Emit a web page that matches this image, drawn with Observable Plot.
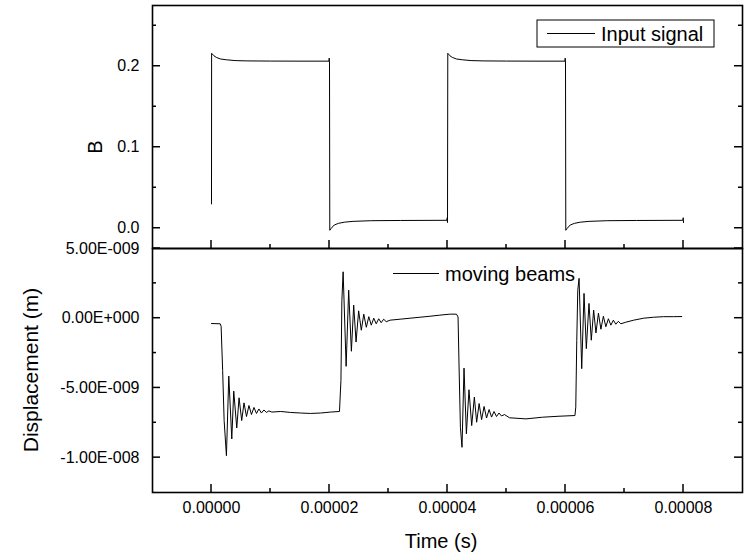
<!DOCTYPE html>
<html><head><meta charset="utf-8">
<script src="https://cdn.jsdelivr.net/npm/d3@7"></script>
<script src="https://cdn.jsdelivr.net/npm/@observablehq/plot@0.6"></script>
<style>
body{margin:0;background:#fff;}
#chart{position:relative;width:745px;height:554px;background:#fff;}
#chart svg{position:absolute;left:0;}
</style></head><body><div id="chart"></div>
<script>
// ---------- data ----------
const timeTicks = [0, 0.00002, 0.00004, 0.00006, 0.00008];
const timeTickLabels = ["0.00000", "0.00002", "0.00004", "0.00006", "0.00008"];
const timeMinorTicks = [0.00001, 0.00003, 0.00005, 0.00007];

const bTicks = [0, 0.1, 0.2];
const bTickLabels = ["0.0", "0.1", "0.2"];
const bMinorTicks = [0.05, 0.15, 0.25];

const dispTicks = [5e-9, 0, -5e-9, -1e-8];
const dispTickLabels = ["5.00E-009", "0.00E+000", "-5.00E-009", "-1.00E-008"];
const dispMinorTicks = [2.5e-9, -2.5e-9, -7.5e-9];

// Input signal (time in microseconds, B)
const inputTimeUs = [0, 0.02, 0.4, 0.8, 1.5, 2.5, 4, 6, 10, 15, 19.9, 19.95, 20.0,
  20.05, 20.3, 20.8, 21.5, 22.5, 24, 27, 32, 39.9, 39.95, 40.0,
  40.05, 40.4, 40.8, 41.5, 42.5, 44, 46, 50, 55, 59.9, 59.95, 60.0,
  60.05, 60.3, 60.8, 61.5, 62.5, 64, 67, 72, 79.9, 79.95, 80.0];
const inputB = [0.030, 0.216, 0.213, 0.211, 0.209, 0.208, 0.207, 0.2066, 0.2064, 0.2063, 0.2063, 0.210, 0.204,
  -0.0025, 0.000, 0.004, 0.006, 0.0075, 0.0085, 0.0093, 0.0096, 0.0098, 0.013, 0.007,
  0.216, 0.213, 0.211, 0.209, 0.208, 0.207, 0.2066, 0.2064, 0.2063, 0.2063, 0.210, 0.204,
  -0.0025, 0.000, 0.004, 0.006, 0.0075, 0.0085, 0.0093, 0.0096, 0.0098, 0.013, 0.007];

// Moving beams displacement (time in microseconds, displacement in nm)
const dispTimeUs = [0, 1.47, 1.63, 1.89, 2.14, 2.53, 2.93, 3.44, 3.77, 4.28, 4.67, 5.12, 5.51,
  5.93, 6.35, 6.77, 7.20, 7.62, 8.04, 8.46, 8.88, 9.30, 9.72, 10.23,
  11.74, 13.43, 15.11, 16.8, 18.5, 20.2, 21.69,
  21.94, 22.1, 22.31, 22.82, 23.25, 23.71, 24.1, 24.5, 24.94, 25.39, 25.81, 26.24, 26.66,
  27.08, 27.5, 27.92, 28.34, 28.76, 29.18, 29.61, 30.28, 31.97, 33.65, 35.33, 37.02, 38.7, 40.39, 41.52,
  41.79, 41.96, 42.19, 42.46, 42.80, 43.2, 43.64, 44.1, 44.55, 44.94, 45.36, 45.78, 46.2, 46.62,
  47.05, 47.47, 47.89, 48.31, 48.73, 49.15, 49.66, 50.5, 53.3, 56.1, 58.9, 61.6,
  61.74, 61.91, 62.08, 62.3, 62.75, 63.14, 63.53, 63.98, 64.37, 64.77, 65.16, 65.58, 66.0,
  66.42, 66.84, 67.27, 67.69, 68.11, 68.53, 68.95, 69.37, 70.2, 71.56, 73.24, 74.93, 76.61, 78.3, 79.7];
const dispNm = [-0.38, -0.40, -0.58, -3.74, -7.34, -9.86, -4.15, -8.66, -5.23, -7.87, -5.71, -7.34, -6.07,
  -7.05, -6.26, -6.91, -6.40, -6.83, -6.51, -6.80, -6.58, -6.76, -6.65, -6.73,
  -6.69, -6.76, -6.80, -6.83, -6.80, -6.73, -6.69,
  -4.46, 1.29, 3.33, -3.45, 2.01, -2.37, 0.94, -1.71, 0.53, -0.86, 0.29, -0.65, 0.11,
  -0.50, 0.0, -0.40, -0.04, -0.32, -0.07, -0.25, -0.14, -0.07, 0.0, 0.07, 0.14, 0.22, 0.29, 0.29,
  0.09, -3.50, -7.82, -9.26, -3.58, -8.29, -5.13, -7.70, -5.66, -7.46, -6.12, -7.27, -6.33, -7.16,
  -6.55, -7.09, -6.69, -7.05, -6.80, -7.01, -6.91, -7.14, -7.22, -7.10, -7.03, -6.98,
  -6.38, -1.58, 2.01, 2.86, -3.62, 1.78, -2.18, 1.06, -1.58, 0.58, -1.06, 0.36, -0.79,
  0.14, -0.61, -0.04, -0.50, -0.14, -0.43, -0.22, -0.40, -0.29, -0.14, 0.0, 0.07, 0.11, 0.11, 0.12];

// ---------- build ----------
const inputData = inputTimeUs.map((t, i) => ({t: t * 1e-6, B: inputB[i]}));
const dispData = dispTimeUs.map((t, i) => ({t: t * 1e-6, d: dispNm[i] * 1e-9}));

const FONT = '"Liberation Sans", Arial, sans-serif';
const W = 745, ML = 152, MR = 3;
const xDomain = [-0.00001, 0.00009];
const styleBase = {background: "transparent", overflow: "visible", fontFamily: FONT, fontSize: "16px", color: "#000"};
const lab = (ticks, labels) => d => { const i = ticks.findIndex(v => Math.abs(v - d) < 1e-15); return i >= 0 ? labels[i] : ""; };

const topPlot = Plot.plot({
  width: W, height: 254, marginTop: 5, marginBottom: 6, marginLeft: ML, marginRight: MR,
  style: styleBase,
  x: {domain: xDomain, axis: null},
  y: {domain: [-0.025, 0.275]},
  marks: [
    Plot.axisY({anchor: "left", ticks: bTicks, tickSize: 0, tickPadding: 13, tickFormat: lab(bTicks, bTickLabels), label: null}),
    Plot.line(inputData, {x: "t", y: "B", stroke: "#000", strokeWidth: 1}),
    Plot.frame({stroke: "#000", strokeWidth: 1.6})
  ]
});

const botPlot = Plot.plot({
  width: W, height: 311, marginTop: 5, marginBottom: 62, marginLeft: ML, marginRight: MR,
  style: styleBase,
  x: {domain: xDomain},
  y: {domain: [-1.25e-8, 5e-9]},
  marks: [
    Plot.axisX({anchor: "bottom", ticks: timeTicks, tickSize: 0, tickPadding: 9, tickFormat: lab(timeTicks, timeTickLabels), label: null}),
    Plot.axisY({anchor: "left", ticks: dispTicks, tickSize: 0, tickPadding: 13, tickFormat: lab(dispTicks, dispTickLabels), label: null}),
    Plot.line(dispData, {x: "t", y: "d", stroke: "#000", strokeWidth: 1}),
    Plot.frame({stroke: "#000", strokeWidth: 1.6})
  ]
});

const chart = document.getElementById("chart");
topPlot.style.top = "0px";
botPlot.style.top = "243px";
chart.appendChild(topPlot);
chart.appendChild(botPlot);

// ---------- inward ticks, positioned with the plots' own scales ----------
function addTicks(plot, yMajor, yMinor, bottom) {
  const sx = plot.scale("x"), sy = plot.scale("y");
  const X = v => sx.apply(v), Y = v => sy.apply(v);
  const g = d3.select(plot).append("g").attr("stroke", "#000").attr("stroke-width", 1.5);
  const left = ML, right = W - MR;
  const seg = (x1, y1, x2, y2) => g.append("line").attr("x1", x1).attr("y1", y1).attr("x2", x2).attr("y2", y2);
  timeTicks.forEach(v => seg(X(v), bottom, X(v), bottom - 8));
  timeMinorTicks.forEach(v => seg(X(v), bottom, X(v), bottom - 4));
  yMajor.forEach(v => { seg(left, Y(v), left + 8, Y(v)); seg(right, Y(v), right - 8, Y(v)); });
  yMinor.forEach(v => { seg(left, Y(v), left + 4, Y(v)); seg(right, Y(v), right - 4, Y(v)); });
}
addTicks(topPlot, bTicks, bMinorTicks, 248);
addTicks(botPlot, dispTicks, dispMinorTicks, 249);

// ---------- titles & legends ----------
const ts = d3.select(topPlot), bs = d3.select(botPlot);
function txt(sel, x, y, s, size, anchor, rot) {
  return sel.append("text")
    .attr("transform", `translate(${x},${y})` + (rot ? ` rotate(${rot})` : ""))
    .attr("text-anchor", anchor).attr("dominant-baseline", "central")
    .style("font", `${size}px ${FONT}`).attr("fill", "#000").text(s);
}
txt(ts, 95, 147, "B", 20, "middle", -90);
txt(bs, 30, 127, "Displacement (m)", 21, "middle", -90);
txt(bs, 441, 298, "Time (s)", 20, "middle");

// legend top
ts.append("rect").attr("x", 537).attr("y", 20).attr("width", 177).attr("height", 27)
  .attr("fill", "#fff").attr("stroke", "#000").attr("stroke-width", 1);
ts.append("line").attr("x1", 547).attr("x2", 595).attr("y1", 33.5).attr("y2", 33.5)
  .attr("stroke", "#000").attr("stroke-width", 1);
txt(ts, 601, 34, "Input signal", 20, "start");

// legend bottom
bs.append("line").attr("x1", 393).attr("x2", 439).attr("y1", 30.5).attr("y2", 30.5)
  .attr("stroke", "#000").attr("stroke-width", 1);
txt(bs, 445, 31, "moving beams", 20, "start");
</script></body></html>
